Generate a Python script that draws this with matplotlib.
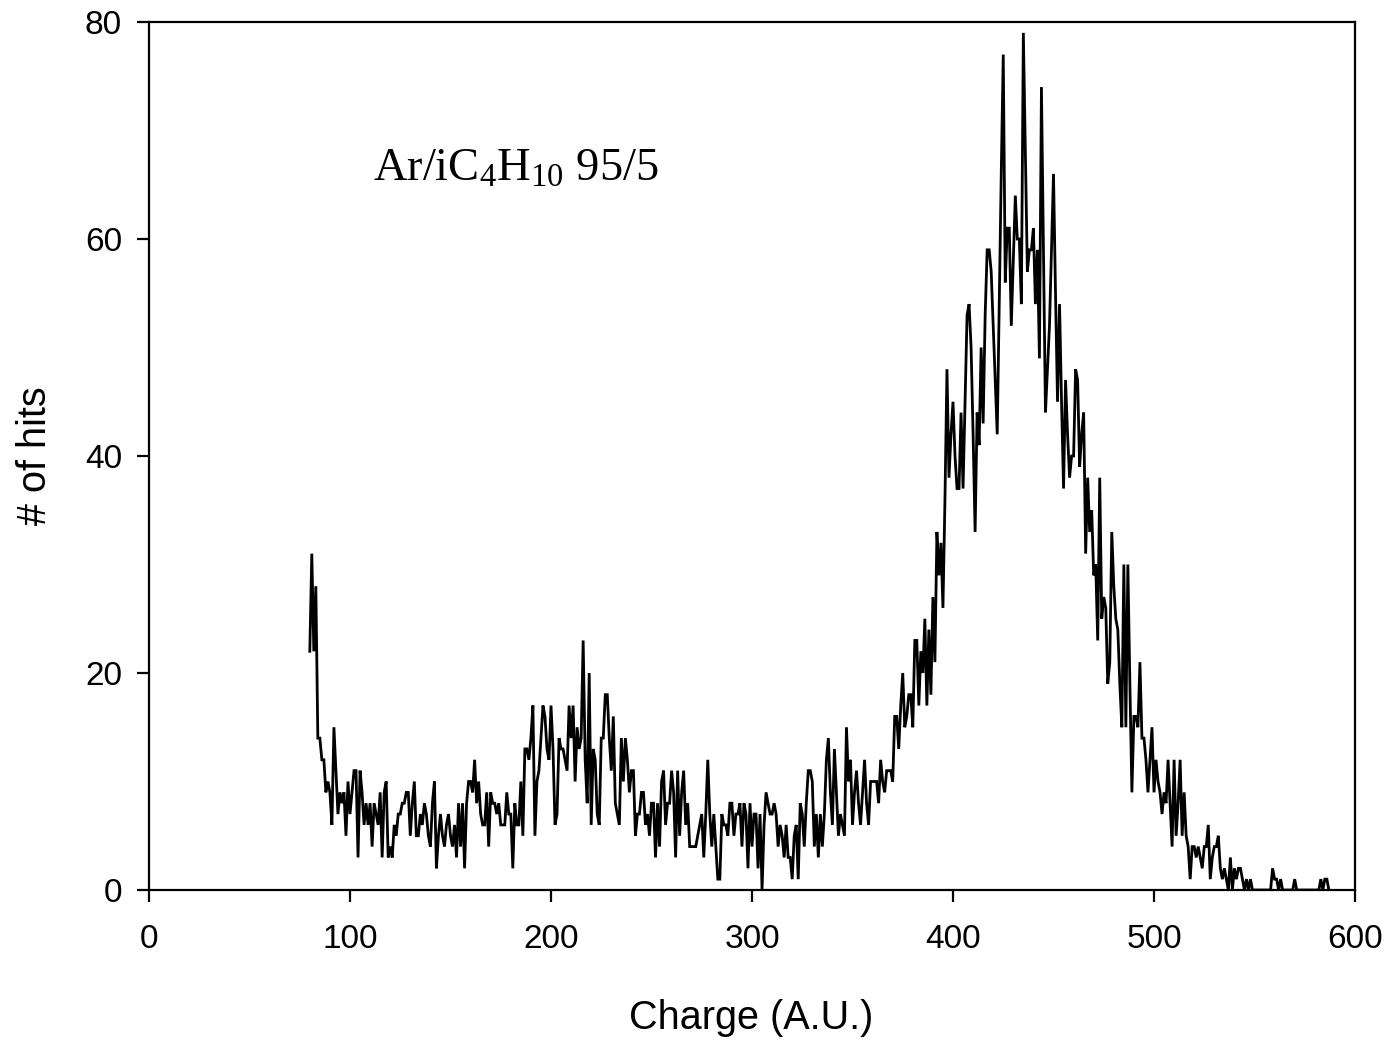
import matplotlib
matplotlib.use("Agg")
import matplotlib.pyplot as plt
import numpy as np

# ---- data: number of hits per charge bin (bin width 1 A.U.), starting at charge 80 ----
charge_start = 80
hits_080_179 = [22, 31, 22, 28, 14, 14, 12, 12, 9, 10, 9, 6, 15, 11, 7, 9, 8, 9, 5, 10,
                7, 9, 11, 11, 3, 11, 9, 6, 8, 6, 8, 4, 8, 7, 6, 9, 3, 9, 10, 3,
                4, 3, 6, 5, 7, 7, 8, 8, 9, 9, 5, 8, 10, 5, 5, 7, 6, 8, 7, 5,
                4, 8, 10, 2, 5, 7, 5, 4, 6, 7, 5, 4, 6, 3, 8, 4, 8, 2, 8, 10,
                10, 9, 12, 8, 10, 7, 6, 6, 9, 4, 9, 8, 8, 7, 8, 6, 6, 6, 9, 7]
hits_180_279 = [7, 2, 8, 6, 6, 10, 5, 13, 13, 12, 14, 17, 5, 10, 11, 14, 17, 16, 13, 12,
                17, 13, 6, 7, 14, 13, 13, 12, 11, 17, 14, 17, 10, 15, 13, 14, 23, 12, 8, 20,
                6, 13, 12, 7, 6, 14, 14, 18, 18, 14, 11, 16, 8, 7, 6, 14, 10, 14, 12, 9,
                11, 11, 5, 7, 7, 9, 9, 6, 7, 5, 8, 8, 3, 8, 4, 10, 11, 6, 8, 8,
                11, 9, 3, 11, 5, 9, 11, 6, 8, 4, 4, 4, 4, 5, 6, 7, 3, 7, 12, 7]
hits_280_379 = [4, 7, 4, 1, 1, 7, 6, 6, 5, 8, 8, 5, 7, 7, 8, 4, 8, 7, 2, 8,
                4, 7, 7, 2, 7, 0, 6, 9, 8, 7, 7, 8, 7, 4, 6, 5, 3, 6, 3, 3,
                1, 5, 6, 1, 8, 7, 4, 8, 11, 11, 10, 4, 7, 3, 7, 4, 7, 12, 14, 9,
                6, 13, 9, 5, 7, 6, 5, 15, 10, 12, 6, 9, 11, 8, 6, 9, 12, 8, 6, 10,
                10, 10, 10, 8, 12, 10, 9, 11, 11, 11, 10, 16, 16, 13, 17, 20, 15, 16, 18, 18]
hits_380_479 = [15, 23, 23, 17, 22, 20, 25, 17, 24, 18, 27, 21, 33, 29, 32, 26, 36, 48, 38, 42,
                45, 40, 37, 37, 44, 37, 45, 53, 54, 50, 42, 33, 44, 41, 50, 43, 53, 59, 59, 57,
                52, 47, 42, 54, 66, 77, 56, 61, 61, 52, 58, 64, 60, 60, 54, 79, 68, 57, 59, 59,
                61, 54, 59, 49, 74, 59, 44, 48, 52, 59, 66, 55, 45, 54, 45, 37, 47, 42, 38, 40,
                40, 48, 47, 39, 42, 44, 31, 38, 33, 35, 29, 30, 23, 38, 25, 27, 26, 19, 21, 33]
hits_480_587 = [28, 25, 24, 19, 15, 30, 15, 30, 19, 9, 16, 16, 15, 21, 14, 14, 12, 9, 12, 15,
                9, 12, 10, 9, 7, 9, 8, 12, 8, 4, 12, 5, 8, 12, 5, 9, 5, 4, 1, 4,
                4, 3, 4, 3, 2, 4, 4, 6, 1, 3, 4, 4, 5, 2, 1, 2, 1, 0, 3, 0,
                2, 1, 2, 2, 1, 0, 1, 0, 1, 0, 0, 0, 0, 0, 0, 0, 0, 0, 0, 2,
                1, 1, 0, 1, 0, 0, 0, 0, 0, 0, 1, 0, 0, 0, 0, 0, 0, 0, 0, 0,
                0, 0, 0, 1, 0, 1, 1, 0]

x_ticks = [0, 100, 200, 300, 400, 500, 600]
y_ticks = [0, 20, 40, 60, 80]
x_label = "Charge (A.U.)"
y_label = "# of hits"
annotation = r"Ar/iC$_4$H$_{10}$ 95/5"

hits = np.concatenate([hits_080_179, hits_180_279, hits_280_379,
                       hits_380_479, hits_480_587])
charge = charge_start + np.arange(len(hits))

plt.rcParams["font.family"] = ["Liberation Sans", "DejaVu Sans"]
plt.rcParams["mathtext.fontset"] = "custom"
plt.rcParams["mathtext.rm"] = "Liberation Serif"
plt.rcParams["mathtext.it"] = "Liberation Serif:italic"

fig = plt.figure(figsize=(13.89, 10.40), dpi=100)
ax = fig.add_axes([149 / 1389, 1 - 890 / 1040, (1355 - 149) / 1389, (890 - 22) / 1040])

ax.plot(charge, hits, color="black", lw=2.0, solid_joinstyle="miter")

ax.set_xlim(0, 600)
ax.set_ylim(0, 80)
ax.set_xticks(x_ticks)
ax.set_yticks(y_ticks)
for s in ax.spines.values():
    s.set_linewidth(1.6)
ax.tick_params(axis="both", direction="out", length=8.5, width=1.6,
               labelsize=24, top=False, right=False)
ax.tick_params(axis="x", pad=16)
ax.tick_params(axis="y", pad=11)

ax.set_xlabel(x_label, fontsize=28.5)
ax.set_ylabel(y_label, fontsize=28.5)
ax.xaxis.set_label_coords((751 - 149) / 1206, (890 - 1018) / 868)
ax.yaxis.set_label_coords((35 - 149) / 1206, 0.5)
ax.xaxis.label.set_va("center")
ax.yaxis.label.set_va("center")

ax.text(111.5, 65.4, annotation, fontsize=33.5, family="Liberation Serif",
        ha="left", va="baseline")

fig.savefig("out.png", dpi=100, facecolor="white")
